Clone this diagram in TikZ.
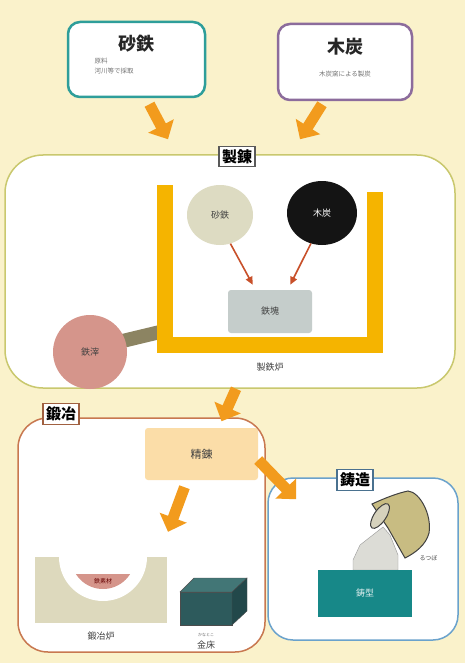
\documentclass[tikz,border=0pt]{standalone}
\usepackage{fontspec}
\setmainfont{Noto Sans CJK JP}
\usetikzlibrary{arrows.meta, positioning, shapes.geometric}
\definecolor{paper}{HTML}{FAF2CB}
\definecolor{sandteal}{HTML}{2E9E9A}
\definecolor{coalpurple}{HTML}{8C6C9C}
\definecolor{arroworange}{HTML}{F29B1D}
\definecolor{arrowred}{HTML}{C8502A}
\definecolor{furnaceyellow}{HTML}{F5B400}
\definecolor{smeltline}{HTML}{C9C86E}
\definecolor{forgeline}{HTML}{C87850}
\definecolor{castline}{HTML}{6AA2CC}
\definecolor{sandgrey}{HTML}{DDDBC2}
\definecolor{bloomgrey}{HTML}{C5CDCB}
\definecolor{slagpink}{HTML}{D5958B}
\definecolor{tubeolive}{HTML}{8C8462}
\definecolor{refinepeach}{HTML}{FBDDA8}
\definecolor{hearthbeige}{HTML}{DDD9BD}
\definecolor{anvilfront}{HTML}{2D5A5C}
\definecolor{anviltop}{HTML}{427676}
\definecolor{anvilside}{HTML}{22484A}
\definecolor{moldteal}{HTML}{178888}
\definecolor{crucibletan}{HTML}{C8BC82}
\definecolor{pourgrey}{HTML}{DCDCD6}

\begin{document}
\begin{tikzpicture}[x=1pt, y=-1pt,
    srcbox/.style={rectangle, rounded corners=12pt, draw, line width=2.5pt, fill=white, minimum width=137pt, minimum height=75pt},
    region/.style={rectangle, draw, line width=1.5pt, fill=white},
    tag/.style={rectangle, draw, line width=1.2pt, fill=white, inner sep=3pt, font=\bfseries\fontsize{15}{15}\selectfont},
    title/.style={font=\bfseries\fontsize{18}{18}\selectfont, text=black!85},
    note/.style={font=\fontsize{6.5}{10}\selectfont, text=black!55, align=left},
    small/.style={font=\fontsize{9}{9}\selectfont, text=black!75},
    tiny/.style={font=\fontsize{6}{6}\selectfont, text=black!70},
    bigarrow/.style={-{Triangle[width=28pt,length=15pt]}, line width=11pt, draw=arroworange},
    redarrow/.style={-{Triangle[width=7pt,length=8pt]}, line width=1.6pt, draw=arrowred}
]
\fill[paper] (0,0) rectangle (465,663);

% raw materials
\node[srcbox, draw=sandteal] (satetsu) at (136.5,59.5) {};
\node[title] (satetsu-t) at ([yshift=-23pt]satetsu.north) {砂鉄};
\node[note, anchor=north west] (satetsu-n) at (91,55) {原料\\河川等で採取};
\node[srcbox, draw=coalpurple, minimum width=134pt, minimum height=76pt] (mokutan) at (345,62) {};
\node[title] (mokutan-t) at ([yshift=-24pt]mokutan.north) {木炭};
\node[note] (mokutan-n) at (345,74) {木炭窯による製炭};

% smelting
\node[region, draw=smeltline, rounded corners=38pt, minimum width=450pt, minimum height=233pt] (seiren) at (230,271.5) {};
\node[tag, draw=black!65] (seiren-t) at (237,156.5) {製錬};
\draw[bigarrow] ([xshift=13pt,yshift=-6pt]satetsu.south) -- ([xshift=-62pt,yshift=15pt]seiren.north);
\draw[bigarrow] ([xshift=-23pt,yshift=-3pt]mokutan.south) -- ([xshift=70pt,yshift=15pt]seiren.north);

\coordinate (slagin) at (110,344);
\coordinate (wall) at (160,332);
\draw[line width=14pt, tubeolive] (slagin) -- (wall);
\draw[line width=16pt, furnaceyellow, miter limit=10] (165,185) -- (165,345) -- (375,345) -- (375,192);
\node[small, below=6pt of {(270,353)}] (furnace-l) {製鉄炉};

\node[ellipse, fill=sandgrey, minimum width=66pt, minimum height=60pt, small] (sand) at (220,215) {砂鉄};
\node[ellipse, fill=black!92, minimum width=70pt, minimum height=64pt, small, text=white] (coal) at (322,213) {木炭};
\node[rectangle, rounded corners=3pt, fill=bloomgrey, minimum width=84pt, minimum height=43pt, small] (kera) at (270,311.5) {鉄塊};
\draw[redarrow] (sand.290) -- ([xshift=25pt,yshift=5pt]kera.north west);
\draw[redarrow] (coal.250) -- ([xshift=-22pt,yshift=5pt]kera.north east);
\node[circle, fill=slagpink, minimum size=74pt, small] (slag) at (90,352) {鉄滓};

% forging
\node[region, draw=forgeline, rounded corners=30pt, minimum width=247pt, minimum height=234pt] (kaji) at (141.5,535) {};
\node[tag, draw=forgeline!80!black] (kaji-t) at (61,414) {鍛冶};
\draw[bigarrow] ([xshift=6pt]seiren.south) -- ([xshift=80pt,yshift=-4pt]kaji.north);
\node[rectangle, rounded corners=3pt, fill=refinepeach, minimum width=113pt, minimum height=52pt, small, font=\fontsize{11}{11}\selectfont] (refine) at (201.5,454) {精錬};

\node[rectangle, fill=hearthbeige, minimum width=132pt, minimum height=66pt, inner sep=0pt] (hearth) at (101,590) {};
\begin{scope}
  \clip (hearth.north west) rectangle (hearth.south east);
  \fill[white] (103,557) circle[radius=44];
  \clip (103,557) circle[radius=32];
  \fill[slagpink] (60,574) rectangle (150,600);
\end{scope}
\node[tiny, text=red!40!black] (iron-l) at (103,581) {鉄素材};
\node[small, below=5pt of hearth] (hearth-l) {鍛冶炉};
\draw[bigarrow] ([xshift=-17pt,yshift=-7pt]refine.south) -- ([xshift=67pt,yshift=25pt]hearth.north);

% anvil
\filldraw[fill=anvilfront, draw=black!70] (180,592) rectangle (232,625);
\filldraw[fill=anviltop, draw=black!70] (180,592) -- (194,578) -- (247,578) -- (232,592) -- cycle;
\filldraw[fill=anvilside, draw=black!70] (232,592) -- (247,578) -- (247,611) -- (232,625) -- cycle;
\node[small] (anvil-l) at (206,645) {金床};
\node[font=\fontsize{4}{4}\selectfont, text=black!60] (anvil-r) at (206,635) {かなとこ};

% casting
\node[region, draw=castline, rounded corners=25pt, minimum width=190pt, minimum height=162pt] (chuzo) at (363,559) {};
\node[tag, draw=castline!70!black] (chuzo-t) at (355,480) {鋳造};
\draw[bigarrow] ([yshift=-6pt]refine.east) -- ([xshift=29pt,yshift=-22pt]chuzo.north west);

% molten iron poured from the crucible
\filldraw[fill=pourgrey, draw=black!40] (383,527) -- (360,545) -- (353,560) -- (353,570) -- (398,570) -- (398,555) -- (390,535) -- cycle;
\node[rectangle, fill=moldteal, minimum width=94pt, minimum height=47pt, small, text=white!85!moldteal] (mold) at (365,593.5) {鋳型};
\filldraw[fill=crucibletan, draw=black!75, line width=1pt]
  (372,504) .. controls (385,498) and (398,493) .. (408,491)
  .. controls (420,492) and (432,515) .. (429,533)
  .. controls (426,545) and (415,553) .. (405,558) -- (388,528) -- cycle;
\filldraw[fill=pourgrey!70!crucibletan, draw=black!75, line width=1pt, rotate around={56:(380,516)}] (380,516) ellipse[x radius=14.4, y radius=6];
\node[tiny, anchor=west] (crucible-l) at (416,558) {るつぼ};
\end{tikzpicture}
\end{document}
